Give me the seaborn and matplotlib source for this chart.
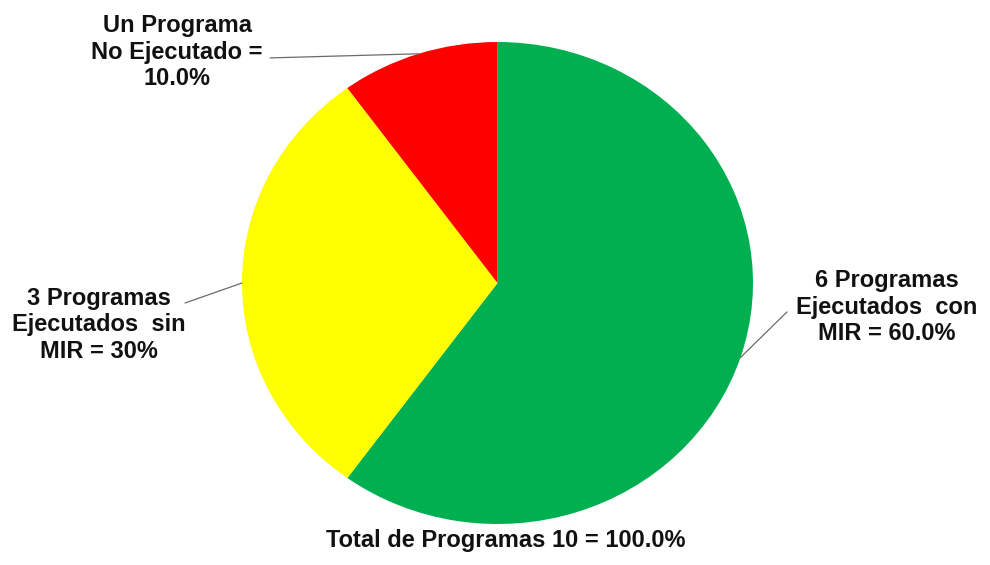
import numpy as np
import matplotlib
matplotlib.use("Agg")
import matplotlib.pyplot as plt
import seaborn as sns

# Programme execution status
labels = [
    "6 Programas\nEjecutados  con\nMIR = 60.0%",
    "3 Programas\nEjecutados  sin\nMIR = 30%",
    "Un Programa\nNo Ejecutado =\n10.0%",
]
values = [6, 3, 1]
colors = ["#00B050", "#FFFF00", "#FF0000"]
total_label = "Total de Programas 10 = 100.0%"

sns.set_theme(style="white")
plt.rcParams["font.family"] = ["Liberation Sans", "DejaVu Sans"]

fig = plt.figure(figsize=(9.9, 5.65), dpi=100)
fig.patch.set_facecolor("white")
ax = fig.add_axes([242 / 990, 41 / 565, 511 / 990, 482 / 565])

wedges, _ = ax.pie(values, colors=colors, startangle=90, counterclock=False,
                   radius=1.0, wedgeprops=dict(linewidth=0))
ax.set_aspect("auto")
ax.set_xlim(-1, 1)
ax.set_ylim(-1, 1)
ax.axis("off")

# label block centres and leader-line starts (axes data units)
text_pos = [(1.524, -0.10), (-1.56, -0.174), (-1.254, 0.958)]
line_start = [(1.133, -0.120), (-1.223, -0.083), (-0.89, 0.934)]

for w, lab, tp, ls in zip(wedges, labels, text_pos, line_start):
    mid = np.deg2rad((w.theta1 + w.theta2) / 2)
    edge = (np.cos(mid), np.sin(mid))
    ax.plot([ls[0], edge[0]], [ls[1], edge[1]], color="#6b6b6b", lw=0.9,
            clip_on=False, zorder=3)
    ax.text(tp[0], tp[1], lab, ha="center", va="center", multialignment="center",
            fontsize=17, fontweight="bold", color="#111111", linespacing=1.2,
            clip_on=False)

ax.text(0.031, -1.07, total_label, ha="center", va="center", fontsize=17,
        fontweight="bold", color="#111111", clip_on=False)

fig.savefig("out.png", dpi=100, facecolor="white")
